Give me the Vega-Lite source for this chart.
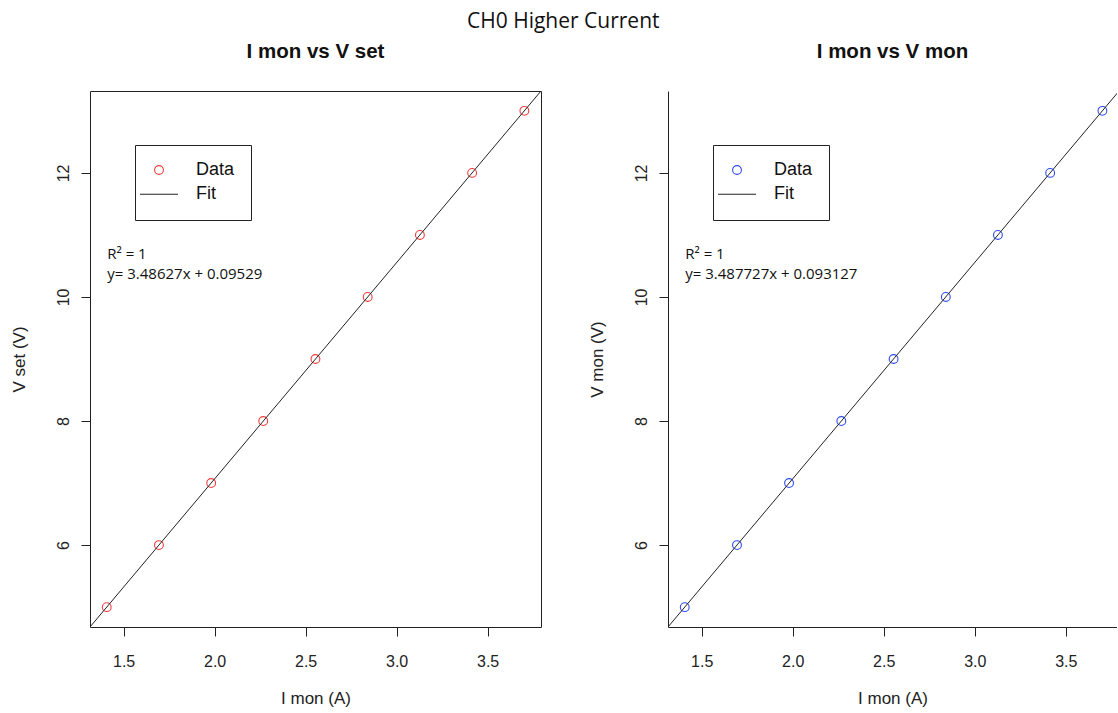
{
  "$schema": "https://vega.github.io/schema/vega-lite/v6.json",
  "background": "white",
  "padding": {"left": 9, "top": 11, "right": 0, "bottom": 0},
  "title": {
    "text": "CH0 Higher Current",
    "font": "Open Sans",
    "fontSize": 21,
    "fontWeight": "normal",
    "color": "#111111",
    "anchor": "middle",
    "offset": 9
  },
  "spacing": 46,
  "hconcat": [
    {
      "width": 451,
      "height": 536,
      "title": {"text": "I mon vs V set"},
      "layer": [
        {
          "data": {
            "values": [
              {"I": 1.407, "V": 5, "series": "Data"},
              {"I": 1.694, "V": 6, "series": "Data"},
              {"I": 1.981, "V": 7, "series": "Data"},
              {"I": 2.267, "V": 8, "series": "Data"},
              {"I": 2.554, "V": 9, "series": "Data"},
              {"I": 2.841, "V": 10, "series": "Data"},
              {"I": 3.128, "V": 11, "series": "Data"},
              {"I": 3.415, "V": 12, "series": "Data"},
              {"I": 3.702, "V": 13, "series": "Data"}
            ]
          },
          "mark": {"type": "point", "filled": false, "size": 100, "strokeWidth": 1.1, "opacity": 1},
          "encoding": {
            "x": {
              "field": "I", "type": "quantitative",
              "scale": {"domain": [1.3151, 3.7934], "nice": false, "zero": false},
              "axis": {"title": "I mon (A)", "values": [1.5, 2, 2.5, 3, 3.5], "format": ".1f"}
            },
            "y": {
              "field": "V", "type": "quantitative",
              "scale": {"domain": [4.68, 13.32], "nice": false, "zero": false},
              "axis": {"title": "V set (V)", "values": [6, 8, 10, 12], "format": "d"}
            },
            "color": {
              "field": "series", "type": "nominal",
              "scale": {"domain": ["Data", "Fit"], "range": ["#F03C3C", "#222222"]},
              "legend": {"title": null, "orient": "none", "legendX": 45, "legendY": 54}
            },
            "shape": {
              "field": "series", "type": "nominal",
              "scale": {
                "domain": ["Data", "Fit"],
                "range": ["M-0.88,0A0.88,0.88,0,1,1,0.88,0A0.88,0.88,0,1,1,-0.88,0Z", "M-3.8,0H3.8"]
              },
              "legend": {"title": null, "orient": "none", "legendX": 45, "legendY": 54}
            }
          }
        },
        {
          "data": {"values": [{"I": 1.2, "V": 4.2788}, {"I": 3.9, "V": 13.6917}]},
          "mark": {"type": "line", "color": "#222222", "strokeWidth": 1, "clip": true},
          "encoding": {
            "x": {"field": "I", "type": "quantitative", "axis": {"title": "I mon (A)", "values": [1.5, 2, 2.5, 3, 3.5], "format": ".1f"}},
            "y": {"field": "V", "type": "quantitative", "axis": {"title": "V set (V)", "values": [6, 8, 10, 12], "format": "d"}}
          }
        },
        {
          "data": {
            "values": [
              {"I": 1.41, "V": 10.607, "note": "R² = 1"},
              {"I": 1.41, "V": 10.285, "note": "y= 3.48627x + 0.09529"}
            ]
          },
          "mark": {"type": "text", "align": "left", "baseline": "alphabetic", "font": "Open Sans", "fontSize": 15, "color": "#111111"},
          "encoding": {
            "x": {"field": "I", "type": "quantitative", "axis": {"title": "I mon (A)", "values": [1.5, 2, 2.5, 3, 3.5], "format": ".1f"}},
            "y": {"field": "V", "type": "quantitative", "axis": {"title": "V set (V)", "values": [6, 8, 10, 12], "format": "d"}},
            "text": {"field": "note"}
          }
        }
      ]
    },
    {
      "width": 449,
      "height": 536,
      "view": {"stroke": null},
      "title": {"text": "I mon vs V mon"},
      "layer": [
        {
          "data": {
            "values": [
              {"I": 1.407, "V": 5, "series": "Data"},
              {"I": 1.694, "V": 6, "series": "Data"},
              {"I": 1.980, "V": 7, "series": "Data"},
              {"I": 2.267, "V": 8, "series": "Data"},
              {"I": 2.554, "V": 9, "series": "Data"},
              {"I": 2.841, "V": 10, "series": "Data"},
              {"I": 3.127, "V": 11, "series": "Data"},
              {"I": 3.414, "V": 12, "series": "Data"},
              {"I": 3.701, "V": 13, "series": "Data"}
            ]
          },
          "mark": {"type": "point", "filled": false, "size": 100, "strokeWidth": 1.1, "opacity": 1},
          "encoding": {
            "x": {
              "field": "I", "type": "quantitative",
              "scale": {"domain": [1.3151, 3.7811], "nice": false, "zero": false},
              "axis": {"title": "I mon (A)", "domain": true, "values": [1.5, 2, 2.5, 3, 3.5], "format": ".1f"}
            },
            "y": {
              "field": "V", "type": "quantitative",
              "scale": {"domain": [4.68, 13.32], "nice": false, "zero": false},
              "axis": {"title": "V mon (V)", "domain": true, "values": [6, 8, 10, 12], "format": "d"}
            },
            "color": {
              "field": "series", "type": "nominal",
              "scale": {"domain": ["Data", "Fit"], "range": ["#2D4BF5", "#222222"]},
              "legend": {"title": null, "orient": "none", "legendX": 45, "legendY": 54}
            },
            "shape": {
              "field": "series", "type": "nominal",
              "scale": {
                "domain": ["Data", "Fit"],
                "range": ["M-0.88,0A0.88,0.88,0,1,1,0.88,0A0.88,0.88,0,1,1,-0.88,0Z", "M-3.8,0H3.8"]
              },
              "legend": {"title": null, "orient": "none", "legendX": 45, "legendY": 54}
            }
          }
        },
        {
          "data": {"values": [{"I": 1.2, "V": 4.2784}, {"I": 3.9, "V": 13.6953}]},
          "mark": {"type": "line", "color": "#222222", "strokeWidth": 1, "clip": true},
          "encoding": {
            "x": {"field": "I", "type": "quantitative", "axis": {"title": "I mon (A)", "domain": true, "values": [1.5, 2, 2.5, 3, 3.5], "format": ".1f"}},
            "y": {"field": "V", "type": "quantitative", "axis": {"title": "V mon (V)", "domain": true, "values": [6, 8, 10, 12], "format": "d"}}
          }
        },
        {
          "mark": {"type": "rule", "color": "#222222", "strokeWidth": 1},
          "encoding": {"y": {"datum": 13.32, "type": "quantitative"}}
        },
        {
          "data": {
            "values": [
              {"I": 1.41, "V": 10.607, "note": "R² = 1"},
              {"I": 1.41, "V": 10.285, "note": "y= 3.487727x + 0.093127"}
            ]
          },
          "mark": {"type": "text", "align": "left", "baseline": "alphabetic", "font": "Open Sans", "fontSize": 15, "color": "#111111"},
          "encoding": {
            "x": {"field": "I", "type": "quantitative", "axis": {"title": "I mon (A)", "domain": true, "values": [1.5, 2, 2.5, 3, 3.5], "format": ".1f"}},
            "y": {"field": "V", "type": "quantitative", "axis": {"title": "V mon (V)", "domain": true, "values": [6, 8, 10, 12], "format": "d"}},
            "text": {"field": "note"}
          }
        }
      ]
    }
  ],
  "resolve": {
    "scale": {"x": "independent", "y": "independent", "color": "independent", "shape": "independent"},
    "legend": {"color": "independent", "shape": "independent"}
  },
  "config": {
    "view": {"stroke": "#222222", "strokeWidth": 1},
    "title": {"font": "Liberation Sans", "fontSize": 20.5, "fontWeight": "bold", "color": "#111111", "offset": 29},
    "axis": {
      "labelFont": "Liberation Sans",
      "labelFontSize": 16,
      "labelColor": "#222222",
      "titleFont": "Liberation Sans",
      "titleFontSize": 17,
      "titleFontWeight": "normal",
      "titleColor": "#222222",
      "tickSize": 9,
      "tickColor": "#222222",
      "tickWidth": 1,
      "grid": false,
      "domain": false,
      "domainColor": "#222222",
      "domainWidth": 1
    },
    "axisX": {"labelPadding": 17, "titlePadding": 21},
    "axisY": {"labelAngle": -90, "labelPadding": 10, "titlePadding": 27},
    "legend": {
      "fillColor": "white",
      "strokeColor": "#222222",
      "padding": 16,
      "cornerRadius": 0,
      "symbolSize": 100,
      "symbolStrokeWidth": 1.1,
      "symbolOffset": -1,
      "labelOffset": 28,
      "labelFont": "Liberation Sans",
      "labelFontSize": 18,
      "labelColor": "#111111",
      "rowPadding": 6.3
    }
  }
}
